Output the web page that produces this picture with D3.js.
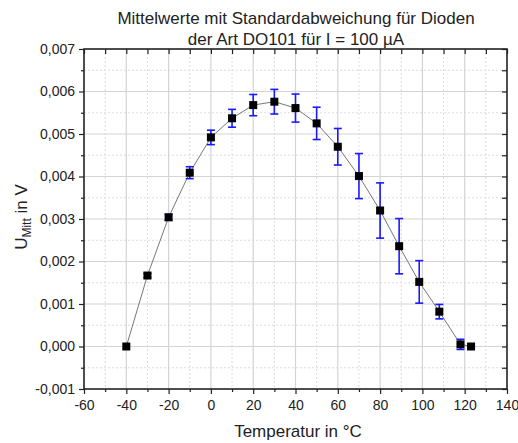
<!DOCTYPE html>
<html><head><meta charset="utf-8">
<script src="https://cdn.jsdelivr.net/npm/d3@7"></script>
<style>
body{margin:0;background:#fff;}
svg{display:block;font-family:"Liberation Sans",Arial,sans-serif;}
</style></head>
<body><svg id="c" width="518" height="443"></svg>
<script>
const temps = [-40,-30,-20,-10,0,10,20,30,40,50,60,70,80,89,98.5,108,118,123];
const means = [0,0.00167,0.00304,0.00409,0.00492,0.00537,0.00568,0.00576,0.00561,0.00525,0.00470,0.00401,0.00320,0.00236,0.00152,0.00082,0.00005,0];
const sds   = [0,0.00005,0.00007,0.00014,0.00017,0.00021,0.00025,0.00029,0.00033,0.00038,0.00043,0.00053,0.00065,0.00065,0.00050,0.00017,0.00012,0.00003];
const xTicks = [-60,-40,-20,0,20,40,60,80,100,120,140];
const yTicks = [-0.001,0,0.001,0.002,0.003,0.004,0.005,0.006,0.007];
const titleLines = ["Mittelwerte mit Standardabweichung für Dioden","der Art DO101 für I = 100 µA"];

const L=84,R=507,T=49,B=389;
const x=d3.scaleLinear().domain([-60,140]).range([L,R]);
const y=d3.scaleLinear().domain([-0.001,0.007]).range([B,T]);
const svg=d3.select("#c");
const data=temps.map((t,i)=>({t,m:means[i],s:sds[i]}));
const fmtY=v=>d3.format(".3f")(v).replace(".",",").replace("−","-");

// grid
const xMinor=d3.range(-50,140,20), yMinor=d3.range(-0.0005,0.007,0.001);
const g=svg.append("g");
g.selectAll(".gxm").data(xMinor).join("line").attr("x1",d=>x(d)).attr("x2",d=>x(d)).attr("y1",T).attr("y2",B)
 .attr("stroke","#dcdcdc").attr("stroke-width",1).attr("stroke-dasharray","2,2");
g.selectAll(".gym").data(yMinor).join("line").attr("y1",d=>y(d)).attr("y2",d=>y(d)).attr("x1",L).attr("x2",R)
 .attr("stroke","#dcdcdc").attr("stroke-width",1).attr("stroke-dasharray","2,2");
g.selectAll(".gx").data(xTicks.slice(1,-1)).join("line").attr("x1",d=>x(d)).attr("x2",d=>x(d)).attr("y1",T).attr("y2",B)
 .attr("stroke","#d4d4d4").attr("stroke-width",1.2);
g.selectAll(".gy").data(yTicks.slice(1,-1)).join("line").attr("y1",d=>y(d)).attr("y2",d=>y(d)).attr("x1",L).attr("x2",R)
 .attr("stroke","#d4d4d4").attr("stroke-width",1.2);

// axes
const xAxB=d3.axisBottom(x).tickValues(xTicks).tickSize(5).tickFormat(d=>String(d));
const xAxBm=d3.axisBottom(x).tickValues(xMinor).tickSize(3).tickFormat("");
const yAxL=d3.axisLeft(y).tickValues(yTicks).tickSize(5).tickFormat(fmtY);
const yAxLm=d3.axisLeft(y).tickValues(yMinor).tickSize(3).tickFormat("");
const xAxT=d3.axisBottom(x).tickValues(d3.range(-60,141,10)).tickSize(5).tickFormat("");
const yAxR=d3.axisLeft(y).tickValues(d3.range(-0.001,0.00701,0.0005)).tickSize(5).tickFormat("");
function style(sel){sel.select(".domain").remove();sel.selectAll("line").attr("stroke","#222").attr("stroke-width",1.2);
 sel.selectAll("text").attr("fill","#222").style("font-size","14px").style("font-family","'Liberation Sans',Arial,sans-serif");}
svg.append("g").attr("transform",`translate(0,${B})`).call(xAxB).call(style).selectAll("text").attr("dy","0.9em");
svg.append("g").attr("transform",`translate(0,${B})`).call(xAxBm).call(style);
svg.append("g").attr("transform",`translate(${L},0)`).call(yAxL).call(style).selectAll("text").attr("x",-9);
svg.append("g").attr("transform",`translate(${L},0)`).call(yAxLm).call(style);
svg.append("g").attr("transform",`translate(0,${T})`).call(xAxT).call(style);
svg.append("g").attr("transform",`translate(${R},0)`).call(yAxR).call(style);

// frame
svg.append("rect").attr("x",L).attr("y",T).attr("width",R-L).attr("height",B-T)
 .attr("fill","none").attr("stroke","#222").attr("stroke-width",1.6);

// line
svg.append("path").datum(data).attr("d",d3.line().x(d=>x(d.t)).y(d=>y(d.m)))
 .attr("fill","none").attr("stroke","#777").attr("stroke-width",1);

// error bars
const eb=svg.append("g").attr("stroke","#1a1aff").attr("stroke-width",1.6).attr("fill","none");
data.filter(d=>d.s>0).forEach(d=>{
 eb.append("line").attr("x1",x(d.t)).attr("x2",x(d.t)).attr("y1",y(d.m+d.s)).attr("y2",y(d.m-d.s));
 eb.append("line").attr("x1",x(d.t)-4).attr("x2",x(d.t)+4).attr("y1",y(d.m+d.s)).attr("y2",y(d.m+d.s));
 eb.append("line").attr("x1",x(d.t)-4).attr("x2",x(d.t)+4).attr("y1",y(d.m-d.s)).attr("y2",y(d.m-d.s));
});

// markers
svg.selectAll(".pt").data(data).join("rect").attr("x",d=>x(d.t)-4).attr("y",d=>y(d.m)-4)
 .attr("width",8).attr("height",8).attr("fill","#000");

// title
svg.append("text").attr("x",296).attr("y",24).attr("text-anchor","middle").style("font-size","17px").attr("fill","#222").text(titleLines[0]);
svg.append("text").attr("x",296).attr("y",45).attr("text-anchor","middle").style("font-size","17px").attr("fill","#222").text(titleLines[1]);

// axis labels
svg.append("text").attr("x",298).attr("y",437).attr("text-anchor","middle").style("font-size","17px").attr("fill","#222").text("Temperatur in °C");
const yl=svg.append("text").attr("transform","translate(27,217) rotate(-90)").attr("text-anchor","middle").style("font-size","17px").attr("fill","#222");
yl.append("tspan").text("U");
yl.append("tspan").attr("dy","4").style("font-size","12px").text("Mitt");
yl.append("tspan").attr("dy","-4").text(" in V");
</script></body></html>
